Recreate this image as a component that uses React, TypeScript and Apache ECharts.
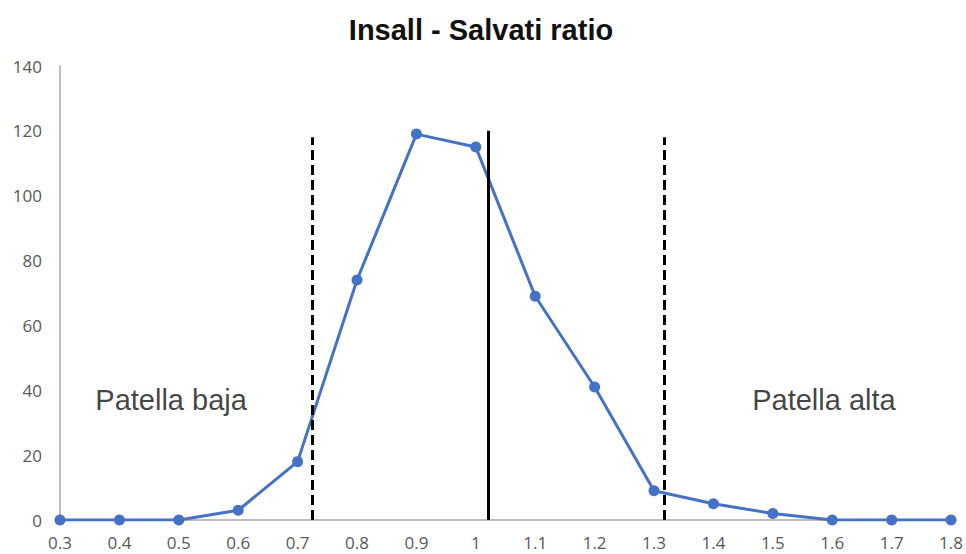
import React, { useEffect, useRef } from "react";
import * as echarts from "echarts";

const categories = ["0.3", "0.4", "0.5", "0.6", "0.7", "0.8", "0.9", "1", "1.1", "1.2", "1.3", "1.4", "1.5", "1.6", "1.7", "1.8"];
const counts = [0, 0, 0, 3, 18, 74, 119, 115, 69, 41, 9, 5, 2, 0, 0, 0];
const yTicks = [0, 20, 40, 60, 80, 100, 120, 140];
// reference lines: [ratio, top value, dashed]
const refRatios = [0.724, 1.021, 1.317];
const refTops = [118, 120, 118];
const refDashed = [true, false, true];
const zoneLabels = ["Patella baja", "Patella alta"];
const zoneLabelPos = [[0.487, 37], [1.586, 37]];

const firstRatio = parseFloat(categories[0]);
const step = 0.1;
const toIdx = (r: number) => (r - firstRatio) / step;

export default function App() {
  const ref = useRef<HTMLDivElement>(null);
  useEffect(() => {
    const chart = echarts.init(ref.current!, null, { renderer: "svg" });
    const font = "'Liberation Sans', Arial, sans-serif";
    chart.setOption({
      animation: false,
      backgroundColor: "#ffffff",
      title: {
        text: "Insall - Salvati ratio",
        left: 476,
        textAlign: "center",
        top: 10,
        textStyle: { fontFamily: font, fontWeight: "bold", fontSize: 29, color: "#111" },
      },
      grid: { left: 60, right: 14, top: 66, bottom: 34 },
      xAxis: {
        type: "value",
        min: 0,
        max: categories.length - 1,
        interval: 1,
        axisLine: { show: true, lineStyle: { color: "#bdbdbd", width: 2 } },
        axisTick: { show: false },
        splitLine: { show: false },
        axisLabel: {
          formatter: (v: number) => categories[Math.round(v)],
          color: "#595959",
          fontFamily: "'Open Sans', sans-serif",
          fontSize: 17,
          margin: 14,
        },
      },
      yAxis: {
        type: "value",
        min: yTicks[0],
        max: yTicks[yTicks.length - 1],
        interval: yTicks[1] - yTicks[0],
        axisLine: { show: true, lineStyle: { color: "#bdbdbd", width: 2 } },
        axisTick: { show: false },
        splitLine: { show: false },
        axisLabel: { color: "#595959", fontFamily: "'Open Sans', sans-serif", fontSize: 17, margin: 18 },
      },
      series: [
        {
          type: "line",
          data: counts.map((v, i) => [i, v]),
          symbol: "circle",
          symbolSize: 11,
          lineStyle: { color: "#4472C4", width: 3 },
          itemStyle: { color: "#4472C4" },
          z: 3,
          markLine: {
            silent: true,
            symbol: ["none", "none"],
            label: { show: false },
            data: refRatios.map((r, k) => [
              {
                coord: [toIdx(r), 0],
                lineStyle: { color: "#000", width: 3, type: refDashed[k] ? [10, 5] : "solid" },
              },
              { coord: [toIdx(r), refTops[k]] },
            ]),
          },
        },
        {
          type: "scatter",
          symbolSize: 0,
          data: zoneLabelPos.map((p, k) => ({ value: [toIdx(p[0]), p[1]], name: zoneLabels[k] })),
          label: {
            show: true,
            position: "inside",
            formatter: (p: any) => p.name,
            fontFamily: font,
            fontSize: 29,
            color: "#111",
          },
          silent: true,
        },
      ],
    });
    return () => chart.dispose();
  }, []);
  return <div ref={ref} style={{ width: 966, height: 554, position: "absolute", left: 0, top: 0 }} />;
}
